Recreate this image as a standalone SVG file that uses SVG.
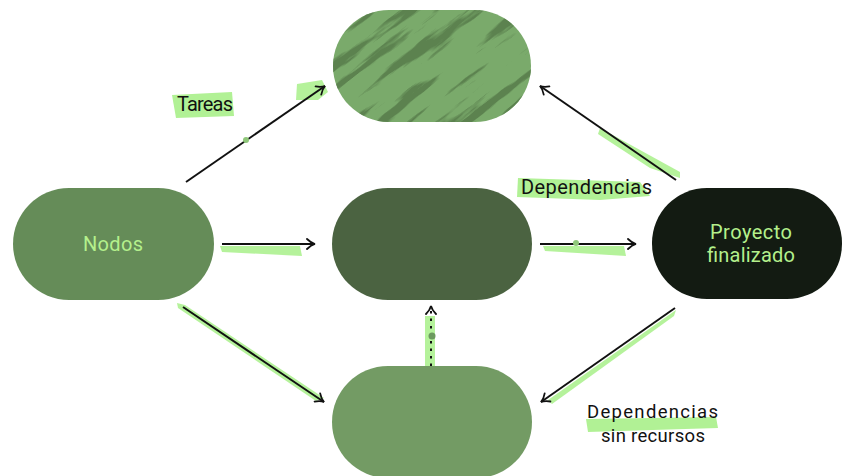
<svg xmlns="http://www.w3.org/2000/svg" width="843" height="476" viewBox="0 0 843 476">
  <defs>
    <style>
      .lbl { font-family: Roboto, "Liberation Sans", sans-serif; font-size: 20px; fill: #111; }
      .lbl2 { font-family: Roboto, "Liberation Sans", sans-serif; font-size: 18.5px; fill: #111; }
      .nlbl { font-family: Roboto, "Liberation Sans", sans-serif; font-size: 20px; fill: #b4f08c; text-anchor: middle; }
      .edge { fill: none; stroke: #111; stroke-width: 2; }
      .glow { fill: #a8f08a; opacity: 0.85; }
      .hl { fill: #a8f08a; opacity: 0.9; }
    </style>
    <marker id="arrow" viewBox="0 0 12 12" refX="10" refY="6" markerWidth="12" markerHeight="12" markerUnits="userSpaceOnUse" orient="auto">
      <path d="M2,1 Q6,5 10,6 Q6,7 2,11" fill="none" stroke="#111" stroke-width="1.8" stroke-linecap="round"/>
    </marker>
    <clipPath id="topPill">
      <rect x="333" y="10" width="198" height="112" rx="56" ry="56"/>
    </clipPath>
    <!-- darker streaks for the marbled node -->
    <filter id="streaks" x="0" y="0" width="1" height="1" color-interpolation-filters="sRGB">
      <feTurbulence type="fractalNoise" baseFrequency="0.008 0.07" numOctaves="5" seed="11" result="n"/>
      <feColorMatrix in="n" type="matrix" values="0 0 0 0 0.36  0 0 0 0 0.51  0 0 0 0 0.31  0 0 0 -12 5.5"/>
    </filter>
  </defs>

  <!-- label highlight patches -->
  <g id="highlights">
    <polygon class="hl" points="172,95 232,92 234,116 176,118"/>
    <polygon class="hl" points="518,178 640,182 650,196 600,200 517,197"/>
    <polygon class="hl" points="586,419 716,417 718,428 588,432"/>
  </g>

  <g id="connectors">
    <!-- Nodos -> top -->
    <polygon class="glow" points="297,84 322,80 328,92 318,100 296,100"/>
    <path class="edge" d="M186,182 L325,86" marker-end="url(#arrow)"/>
    <circle cx="246" cy="140" r="3" fill="#8fc77a"/>
    <!-- Proyecto -> top -->
    <polygon class="glow" points="600,128 680,172 680,178 650,168 598,134"/>
    <path class="edge" d="M676,180 L540,86" marker-end="url(#arrow)"/>
    <!-- Nodos -> middle -->
    <polygon class="glow" points="220,246 300,246 302,256 222,252"/>
    <path class="edge" d="M222,244 L315,244" marker-end="url(#arrow)"/>
    <!-- middle -> Proyecto -->
    <polygon class="glow" points="543,246 624,246 626,256 545,251"/>
    <path class="edge" d="M540,244 L636,244" marker-end="url(#arrow)"/>
    <circle cx="576" cy="243" r="3" fill="#8fc77a"/>
    <!-- Nodos -> bottom -->
    <polygon class="glow" points="177,303 185,305 324,398 316,401 178,308"/>
    <path class="edge" d="M183,307 L324,402" marker-end="url(#arrow)"/>
    <!-- Proyecto -> bottom -->
    <polygon class="glow" points="548,400 676,310 674,316 552,404"/>
    <path class="edge" d="M675,308 L541,402" marker-end="url(#arrow)"/>
    <!-- bottom -> middle, dotted -->
    <rect class="glow" x="425" y="316" width="10" height="50"/>
    <path class="edge" d="M431,366 L431,306" stroke-dasharray="2.5 5" stroke-width="2.5" marker-end="url(#arrow)"/>
    <circle cx="432" cy="336" r="3.5" fill="#6c9a5e"/>
  </g>

  <g id="node-top">
    <rect x="333" y="10" width="198" height="112" rx="56" ry="56" fill="#7aaa6b"/>
    <g clip-path="url(#topPill)">
      <rect x="250" y="-90" width="360" height="320" fill="#000" filter="url(#streaks)" transform="rotate(-38 432 66)"/>
    </g>
  </g>
  <g id="node-nodos">
    <rect x="13" y="188" width="201" height="112" rx="56" ry="56" fill="#658c58"/>
    <text class="nlbl" x="113" y="251" textLength="60">Nodos</text>
  </g>
  <g id="node-middle">
    <rect x="332" y="188" width="200" height="112" rx="56" ry="56" fill="#4b6341"/>
  </g>
  <g id="node-proyecto">
    <rect x="652" y="188" width="190" height="111" rx="55" ry="55" fill="#131b12"/>
    <text class="nlbl" x="751" y="239" textLength="82">Proyecto</text>
    <text class="nlbl" x="751" y="262" textLength="88">finalizado</text>
  </g>
  <g id="node-bottom">
    <rect x="332" y="366" width="200" height="112" rx="56" ry="56" fill="#739b64"/>
  </g>

  <g id="labels">
    <text class="lbl" x="177" y="111" textLength="56">Tareas</text>
    <text class="lbl" x="521" y="194" textLength="131">Dependencias</text>
    <text class="lbl2" x="587" y="418" textLength="131">Dependencias</text>
    <text class="lbl2" x="601" y="442" textLength="104">sin recursos</text>
  </g>
</svg>
